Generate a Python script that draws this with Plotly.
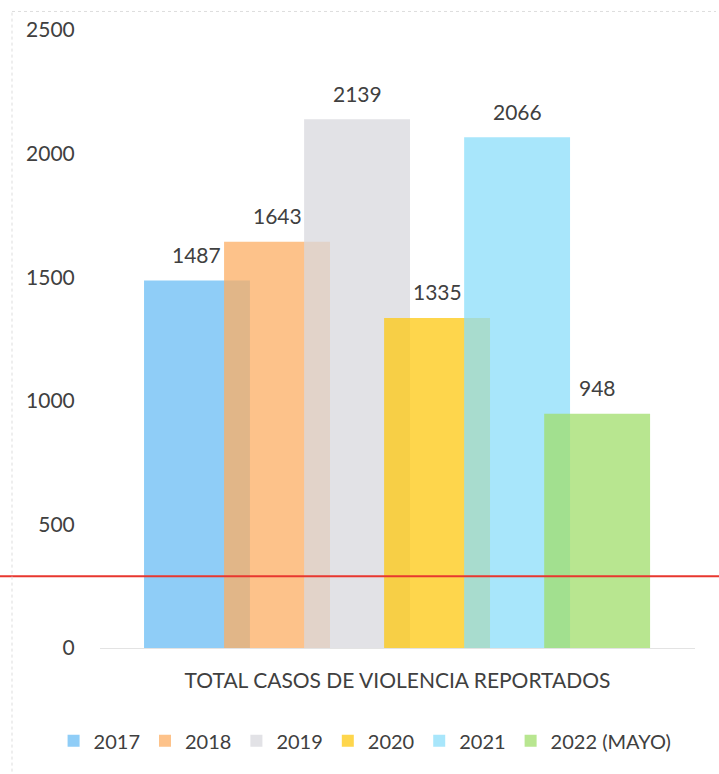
import plotly.graph_objects as go

# Reported violence cases per year
category = ["TOTAL CASOS DE VIOLENCIA REPORTADOS"]
years = ["2017", "2018", "2019", "2020", "2021", "2022 (MAYO)"]
cases = [1487, 1643, 2139, 1335, 2066, 948]
colors = [
    "rgba(106,188,244,0.75)",
    "rgba(252,174,99,0.75)",
    "rgba(216,216,222,0.75)",
    "rgba(254,200,16,0.75)",
    "rgba(139,222,250,0.75)",
    "rgba(160,222,107,0.75)",
]
y_ticks = [0, 500, 1000, 1500, 2000, 2500]
reference_level = 290

TEXT = "#404040"
FONT = "Lato"

bar_width = 0.178
bar_step = 0.1345
first_offset = -0.426

fig = go.Figure()
annotations = []
for i, (yr, val, col) in enumerate(zip(years, cases, colors)):
    off = first_offset + i * bar_step
    fig.add_trace(go.Bar(
        x=category, y=[val], name=yr,
        marker=dict(color=col, line=dict(width=0)),
        width=bar_width, offset=off,
        hoverinfo="y+name",
    ))
    annotations.append(dict(
        x=off + bar_width / 2, y=val, xref="x", yref="y",
        text=str(val), showarrow=False,
        yanchor="middle", yshift=26,
        font=dict(family=FONT, size=21, color=TEXT),
    ))

frame_left = (12 - 100) / 595
frame_right = (716 - 100) / 595

fig.update_layout(
    width=719, height=774,
    margin=dict(l=100, r=24, t=30, b=126, autoexpand=False),
    paper_bgcolor="white", plot_bgcolor="white",
    barmode="overlay",
    font=dict(family=FONT, color=TEXT, size=20),
    showlegend=True,
    legend=dict(
        orientation="h", x=-0.078, xanchor="left", y=-0.15, yanchor="middle",
        font=dict(family=FONT, size=20, color=TEXT),
        itemwidth=30, traceorder="normal",
    ),
    annotations=annotations,
    shapes=[
        dict(type="line", xref="paper", yref="y",
             x0=-0.2, x1=1.1, y0=reference_level, y1=reference_level,
             line=dict(color="#e8372f", width=2)),
        # faint chart frame (left and top edges)
        dict(type="line", xref="paper", yref="paper",
             x0=frame_left, x1=frame_left, y0=-0.2, y1=1.03,
             line=dict(color="#dddddd", width=1, dash="dot")),
        dict(type="line", xref="paper", yref="paper",
             x0=frame_left, x1=frame_right, y0=1.03, y1=1.03,
             line=dict(color="#dddddd", width=1, dash="dot")),
    ],
    xaxis=dict(
        type="category", range=[-0.5, 0.5],
        showline=True, linecolor="#e3e3e3", linewidth=1,
        ticks="outside", ticklen=14, tickcolor="rgba(0,0,0,0)",
        tickfont=dict(family=FONT, size=21, color=TEXT),
        showgrid=False, zeroline=False,
    ),
    yaxis=dict(
        range=[0, 2500], tickvals=y_ticks,
        showgrid=False, zeroline=False, showline=False,
        ticks="outside", ticklen=20, tickcolor="rgba(0,0,0,0)",
        tickfont=dict(family=FONT, size=21, color=TEXT),
    ),
)

fig.write_html("out.html")
